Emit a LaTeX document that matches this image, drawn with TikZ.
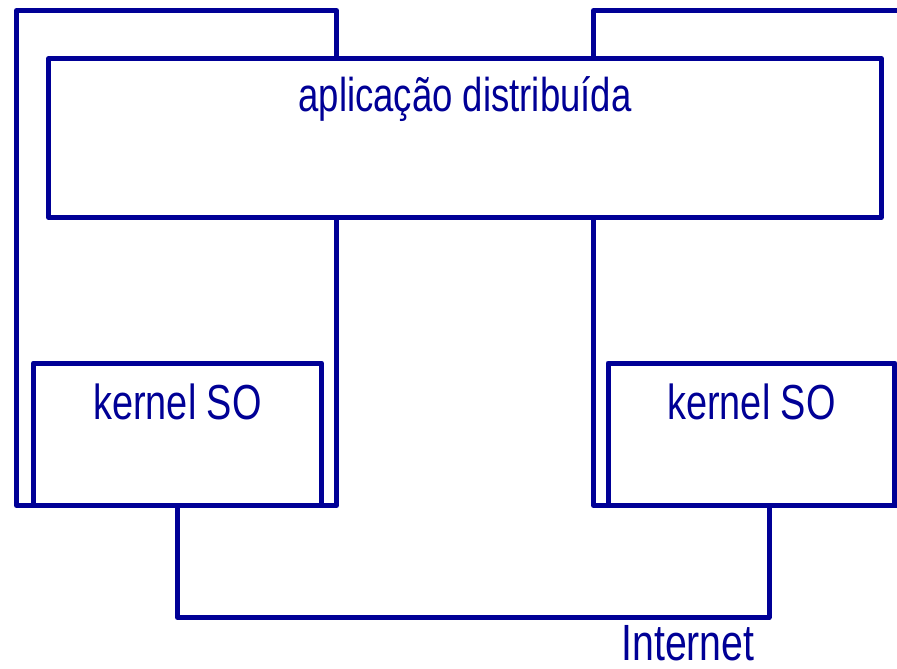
\documentclass[tikz,border=0pt]{standalone}
\usepackage{fontspec}
\setmainfont[FakeStretch=0.77]{Liberation Sans}
\usepackage{tikz}
\usetikzlibrary{positioning,calc}
\definecolor{netblue}{RGB}{0,0,150}

\begin{document}
\begin{tikzpicture}[
    x=0.02cm, y=-0.02cm,
    line/.style={netblue, line width=0.1cm, line join=round},
    box/.style={line, draw, fill=white, inner sep=0pt, outer sep=0pt,
                anchor=north, font=\fontsize{28}{34}\selectfont, text=netblue},
    label text/.style={font=\fontsize{29}{34}\selectfont, text=netblue,
                       inner sep=0pt, text depth=0pt}
]
\useasboundingbox (0,0) rectangle (897,669);

% ============================
% Hosts
% ============================
\draw[line] (16.5,505.5) -- (16.5,10.5) -- (336.5,10.5) -- (336.5,505.5) -- cycle;
\draw[line] (910,10.5) -- (593.5,10.5) -- (593.5,505.5) -- (910,505.5);

% ============================
% Application layer
% ============================
\node[box, minimum width=16.65cm, text height=1.07cm, text depth=2.11cm,
      font=\fontsize{27}{32}\selectfont]
    (app) at (465,58.5) {aplicação distribuída};

% ============================
% Kernels
% ============================
\node[box, minimum width=5.76cm, text height=1.13cm, text depth=1.72cm]
    (kernA) at (177.5,363) {kernel SO};
\node[box, minimum width=5.74cm, text height=1.13cm, text depth=1.72cm]
    (kernB) at (751.5,363) {kernel SO};

% ============================
% Network
% ============================
\coordinate (portB) at ($(kernB.south)+(17.5,0)$);
\draw[line] (kernA.south) -- ++(0,112) -| (portB);
\node[label text, anchor=base] (net) at (688,660) {Internet};

\end{tikzpicture}
\end{document}
